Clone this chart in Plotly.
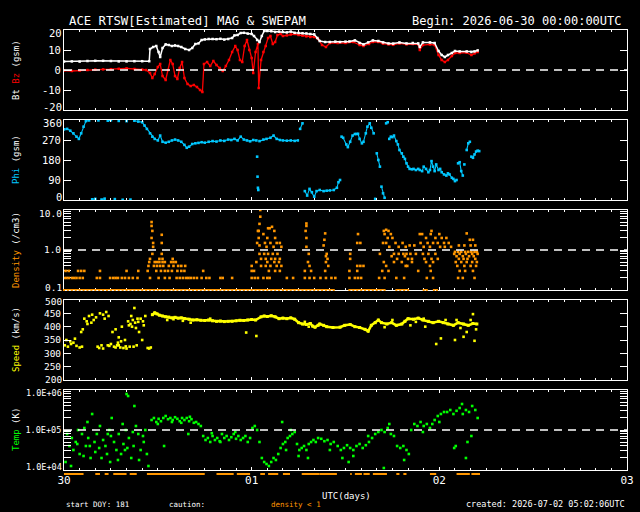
import plotly.graph_objects as go

FONT = "DejaVu Sans Mono"

# ---------------- data: (hours after 2026-06-30 00:00 UTC, value) ----------------
bt_obs = [
    (0, 4.3), (1, 4.3), (2, 4.2), (3, 4.5), (4, 4.6), (5, 4.6), (6, 4.5), (7, 4.3), (8, 4.3), (9, 4.4),
    (10, 4.4), (10.9, 4.4), (11.0, 10.5), (11.4, 11.5), (11.8, 12), (12.1, 9), (12.3, 6.5), (12.6, 11),
    (13.0, 12.8), (13.4, 12.5), (13.8, 12), (14.2, 12.3), (14.6, 12), (15.0, 11.5), (15.5, 10.5), (16.0, 10),
    (16.4, 11), (16.8, 13), (17.2, 13.3), (17.6, 15), (18, 15.3), (18.5, 15.5), (19, 15.5), (19.5, 15.4),
    (20, 15.6), (20.5, 15.2), (21, 15.5), (21.5, 16), (21.8, 17.3), (22.2, 17.5), (22.6, 18.5), (23, 18.6),
    (23.5, 18.2), (24, 18), (24.3, 17), (24.7, 15), (25.0, 14), (25.3, 17), (25.6, 19.5), (26, 19.5),
    (26.5, 19.4), (27, 19), (27.5, 19.2), (28, 19), (28.5, 18.8), (29, 19.2), (29.5, 18.6), (30, 18.5),
    (30.5, 18.4), (31, 18.3), (31.5, 18), (32, 17.8), (32.4, 16), (32.7, 14.5), (33.4, 14), (34.0, 14),
    (34.7, 14.2), (35.3, 14), (36, 14.2), (36.5, 14.3), (37.2, 14.8), (37.8, 13.5), (38.3, 12.8), (38.9, 13.8),
    (39.5, 14.8), (40.2, 14.5), (40.8, 13.8), (41.5, 13.3), (42.1, 13.2), (42.9, 13.8), (43.8, 13.3),
    (44.6, 13.5), (45.3, 13.3), (45.5, 11.5), (45.9, 13.8), (46.8, 13.8), (47.4, 13.5), (47.9, 9.5),
    (48.3, 7.5), (48.7, 6.5), (49.1, 7.5), (49.6, 8.5), (50.0, 9.5), (50.6, 9.3), (51.5, 9.3), (52.1, 9),
    (52.5, 9.3), (52.9, 9.8),
]

bz_obs = [
    (0, -0.3), (1, -0.5), (2, -0.3), (3, 0), (4, 0.2), (5, 0.3), (6, 0.4), (7, 0.6), (8, 0.8), (9, 0.5),
    (10, 0.2), (10.5, 0), (11, -1.5), (11.3, -4), (11.6, -2), (12, 1.5), (12.3, 3), (12.6, -3), (13, -5),
    (13.3, 0), (13.6, 5), (13.9, 3), (14.2, -3), (14.5, -4.5), (14.8, 1), (15.1, 4), (15.4, -4), (15.8, -7),
    (16.2, -8), (16.6, -7.5), (17.0, -8.5), (17.4, -10), (17.7, -11), (17.9, 3), (18.3, 4), (18.7, 2),
    (19.1, 4.5), (19.5, 2.5), (19.9, 1), (20.3, -0.5), (20.7, 2), (21.1, 5), (21.5, 9), (21.9, 12),
    (22.2, 10), (22.5, 5), (22.8, 4), (23.1, 12), (23.4, 15), (23.7, 10), (24.0, 6), (24.2, -1.5),
    (24.5, 9), (24.8, 13), (24.9, -9), (25.2, 5), (25.5, 9), (25.8, 12), (26.1, 16), (26.4, 17),
    (26.7, 13), (27.0, 14), (27.3, 17.5), (27.7, 18), (28.0, 17), (28.5, 17.3), (29, 17.8), (29.5, 18),
    (30, 17.5), (30.5, 17.2), (31, 16.8), (31.5, 16.5), (32, 16.5), (32.5, 15.5), (33, 12.5), (33.5, 11.5),
    (34, 13.5), (35, 13.5), (36, 13.5), (37, 14), (37.8, 12.5), (38.3, 12), (39, 13), (39.5, 14),
    (40.2, 14), (40.8, 13.2), (41.5, 12.8), (42.1, 12.6), (42.9, 13.3), (43.8, 12.8), (44.6, 13),
    (45.3, 12.8), (45.5, 10), (45.9, 12.5), (46.8, 12.8), (47.4, 12.5), (47.9, 7.5), (48.3, 5), (48.7, 4),
    (49.1, 5), (49.6, 7), (50.0, 8.5), (50.6, 8.5), (51.5, 8.7), (52.1, 7.5), (52.5, 8.3), (52.9, 9),
]

phi_obs = [
    (0, 318), (0.4, 320), (0.8, 312), (1.2, 300), (1.6, 285), (1.9, 275), (2.2, 300), (2.5, 330),
    (2.8, 355), (3.2, 358), (3.6, 3), (4.0, 5), (4.4, 358), (4.8, 2), (5.2, 6), (5.6, 357), (6.0, 359),
    (6.5, 4), (7.0, 356), (7.5, 1), (8.0, 355), (8.5, 2), (9.0, 357), (9.5, 353), (10.0, 350), (10.3, 335),
    (10.6, 320), (11.0, 300), (11.3, 285), (11.6, 275), (12.0, 268), (12.3, 290), (12.6, 262), (13.0, 258),
    (13.4, 262), (13.8, 268), (14.2, 272), (14.6, 268), (15.0, 262), (15.4, 248), (15.7, 235), (16.0, 240),
    (16.4, 252), (16.8, 255), (17.2, 257), (17.6, 260), (18.0, 258), (18.5, 262), (19, 265), (19.5, 263),
    (20, 268), (20.5, 266), (21, 272), (21.4, 270), (21.8, 275), (22.2, 268), (22.6, 285), (23, 272),
    (23.4, 268), (23.8, 264), (24.2, 270), (24.6, 268), (24.7, 195), (24.75, 105), (24.8, 55), (24.85, 45),
    (25, 265), (25.5, 272), (25.9, 275), (26.4, 280), (26.8, 290), (27.2, 275), (27.6, 270), (28, 268),
    (28.5, 267), (29, 268), (29.5, 266), (29.9, 268), (30.2, 320), (30.5, 345), (30.8, 40), (31.1, 20),
    (31.4, 50), (31.7, 35), (32.0, 15), (32.3, 40), (32.7, 45), (33.2, 40), (33.6, 42), (34.0, 43),
    (34.5, 45), (34.9, 55), (35.1, 80), (35.3, 90), (35.5, 285), (35.7, 280), (36.1, 250), (36.3, 238),
    (36.6, 262), (36.9, 290), (37.2, 297), (37.4, 297), (37.6, 298), (37.8, 275), (38.1, 255), (38.3, 262),
    (38.6, 300), (38.8, 330), (39.1, 345), (39.3, 325), (39.6, 300), (39.8, 5), (40.0, 210), (40.2, 180),
    (40.4, 150), (40.6, 60), (40.8, 30), (41.0, 10), (41.2, 345), (41.4, 350), (41.6, 275), (41.8, 285),
    (42.0, 283), (42.2, 290), (42.5, 265), (42.7, 250), (42.9, 225), (43.2, 210), (43.4, 195), (43.6, 185),
    (43.8, 165), (44.0, 150), (44.2, 140), (44.5, 138), (44.7, 140), (45.0, 135), (45.3, 140), (45.5, 135),
    (45.8, 130), (46.0, 150), (46.3, 140), (46.6, 125), (46.8, 135), (47.0, 175), (47.2, 150), (47.4, 130),
    (47.6, 160), (47.9, 135), (48.1, 140), (48.3, 125), (48.6, 115), (48.9, 110), (49.1, 120), (49.3, 115),
    (49.6, 100), (49.8, 95), (50.0, 85), (50.2, 90), (50.4, 165), (50.6, 170), (50.8, 130), (51.0, 110),
    (51.2, 160), (51.5, 225), (51.7, 255), (51.9, 262), (52.1, 195), (52.3, 190), (52.5, 205), (52.7, 218),
    (52.9, 222), (53.1, 220),
]

density_obs = [
    (0.0, 0.2), (0.3, 0.2), (0.6, 0.2), (1.0, 0.2), (1.3, 0.2), (1.6, 0.2), (2.0, 0.2), (2.4, 0.2),
    (0.2, 0.3), (0.6, 0.3), (1.8, 0.3), (2.2, 0.3), (2.6, 0.3),
    (4.2, 0.2), (4.6, 0.2), (5.9, 0.2), (6.3, 0.2), (6.6, 0.2), (6.9, 0.2), (7.4, 0.2), (7.8, 0.2),
    (8.3, 0.2), (8.8, 0.2), (9.4, 0.2), (4.6, 0.3), (8.0, 0.3), (9.5, 0.3),
    (11.2, 5.0), (11.2, 4.0), (11.3, 3.0), (11.2, 2.0), (11.4, 1.5), (11.4, 1.2), (11.3, 0.8), (11.0, 0.6),
    (10.9, 0.5), (10.8, 0.4), (10.7, 0.3), (11.0, 0.2),
    (11.6, 0.5), (11.9, 0.5), (12.2, 0.5), (12.6, 0.5), (12.9, 0.5), (11.5, 0.4), (11.9, 0.4), (12.3, 0.4),
    (12.7, 0.4), (12.2, 0.6), (12.6, 0.6), (12.5, 0.8), (12.5, 2.4), (12.5, 1.5), (11.8, 0.3), (12.4, 0.3),
    (12.9, 0.3), (12.1, 0.2), (12.9, 0.2),
    (13.7, 0.5), (14.0, 0.5), (14.3, 0.5), (13.9, 0.6), (13.4, 0.4), (14.0, 0.4), (14.6, 0.4), (15.0, 0.4),
    (15.5, 0.4), (13.3, 0.3), (13.8, 0.3), (14.5, 0.3), (15.0, 0.3), (15.4, 0.3), (13.5, 0.2), (14.4, 0.2),
    (14.8, 0.2), (15.2, 0.2), (15.6, 0.2),
    (15.9, 0.2), (16.2, 0.2), (16.6, 0.2), (17.0, 0.2), (17.6, 0.2), (17.8, 0.3), (18.2, 0.2), (18.6, 0.2),
    (20.0, 0.2), (20.3, 0.2), (21.5, 0.2),
    (24.0, 0.4), (24.0, 0.3), (24.3, 0.3), (24.0, 0.2), (24.4, 0.2), (24.8, 0.2), (24.6, 0.5), (24.7, 1.5),
    (24.8, 3.0), (25.1, 10.0), (25.1, 6.8), (25.0, 4.5), (24.9, 3.0), (24.9, 2.0), (25.0, 1.3), (25.0, 0.8),
    (25.2, 0.6), (25.2, 0.4),
    (25.5, 2.5), (26.1, 3.5), (26.3, 3.5), (26.6, 3.8), (26.9, 3.0), (26.0, 2.0), (27.0, 2.0), (25.7, 1.5),
    (26.4, 1.5), (27.2, 1.5), (27.6, 1.5), (25.9, 1.2), (26.8, 1.2), (27.8, 1.2), (25.6, 0.8), (26.1, 0.8),
    (26.7, 0.8), (27.3, 0.8), (25.8, 0.6), (26.5, 0.6), (27.0, 0.6), (27.6, 0.6), (26.0, 0.5), (26.9, 0.5),
    (27.5, 0.5), (25.8, 0.4), (26.4, 0.4), (27.2, 0.4), (27.8, 0.4), (26.2, 0.3), (27.0, 0.3), (27.6, 0.3),
    (25.5, 0.2), (26.0, 0.2), (26.3, 0.2),
    (28.5, 0.2), (29.3, 0.2),
    (31.0, 4.6), (31.0, 4.0), (30.9, 3.0), (31.0, 2.0), (31.0, 1.2), (31.3, 0.8), (31.2, 0.5), (31.4, 0.4),
    (30.8, 0.3), (31.6, 0.3), (30.8, 0.2), (31.4, 0.2), (32.0, 0.2),
    (33.4, 2.6), (33.3, 1.8), (33.2, 1.3), (33.6, 0.8), (33.5, 0.7), (33.7, 0.6), (33.5, 0.5), (33.8, 0.4),
    (33.4, 0.3), (32.8, 0.2), (33.5, 0.2), (34.2, 0.2), (34.7, 0.2),
    (37.6, 2.5), (37.5, 1.5), (37.9, 1.5), (36.6, 0.8), (36.6, 0.6), (37.5, 0.4), (37.9, 0.4), (38.3, 0.4),
    (36.5, 0.3), (37.5, 0.3), (36.5, 0.2), (37.2, 0.2), (37.6, 0.2), (38.0, 0.2),
    (41.2, 3.2), (40.9, 3.0), (41.5, 3.0), (41.0, 2.5), (41.8, 2.5), (41.4, 2.0), (42.0, 2.0), (40.8, 1.5),
    (41.2, 1.5), (42.4, 1.5), (43.3, 1.5), (41.6, 1.2), (42.8, 1.2), (43.7, 1.2), (40.4, 0.8), (42.2, 0.8),
    (42.8, 0.8), (43.4, 0.8), (41.9, 0.7), (43.6, 0.7), (42.6, 0.6), (40.9, 0.5), (42.2, 0.5), (43.2, 0.5),
    (41.2, 0.4), (43.7, 0.4), (40.7, 0.3), (41.5, 0.3), (40.3, 0.2), (41.0, 0.2), (42.5, 0.2), (43.5, 0.2),
    (45.5, 2.5), (44.2, 1.3), (44.8, 1.3), (43.8, 0.8), (44.3, 0.8), (45.0, 0.8), (44.0, 0.6), (44.5, 0.6),
    (44.5, 0.5), (43.9, 0.4),
    (47.0, 3.0), (45.8, 2.5), (46.9, 2.5), (48.0, 2.5), (46.3, 2.0), (47.5, 2.0), (48.3, 2.0), (48.9, 2.0),
    (45.6, 1.5), (46.5, 1.5), (47.2, 1.5), (47.8, 1.5), (48.6, 1.5), (49.2, 1.5), (46.0, 1.2), (46.8, 1.2),
    (48.1, 1.2), (48.7, 1.2), (49.5, 1.2), (45.9, 0.8), (46.6, 0.8), (47.5, 0.8), (46.1, 0.6), (47.0, 0.6),
    (47.8, 0.6), (46.3, 0.5), (47.2, 0.5), (46.8, 0.4), (45.3, 0.3), (46.9, 0.3), (46.4, 0.2), (47.2, 0.2),
    (51.5, 2.6), (51.9, 1.8), (52.3, 1.8), (50.5, 1.3), (51.2, 1.3), (52.0, 1.3), (52.6, 1.3),
    (50.0, 0.9), (50.4, 0.9), (50.8, 0.9), (51.3, 0.9), (51.7, 0.9), (52.1, 0.9), (52.5, 0.9), (52.8, 0.9),
    (49.9, 0.8), (50.6, 0.8), (51.4, 0.8), (52.2, 0.8), (52.9, 0.8), (50.2, 0.7), (51.0, 0.7), (51.8, 0.7),
    (52.4, 0.7), (50.5, 0.6), (51.1, 0.6), (51.6, 0.6), (52.6, 0.6), (50.1, 0.5), (50.8, 0.5), (51.5, 0.5),
    (52.2, 0.5), (52.8, 0.5), (50.3, 0.4), (51.2, 0.4), (52.0, 0.4), (52.7, 0.4), (50.6, 0.3), (51.3, 0.3),
    (52.3, 0.3), (50.4, 0.2), (51.0, 0.2), (52.5, 0.2),
]

# times where density sat at / below the 0.1 floor of the plot (None = gap)
density_floor_t = [
    0.0, 0.5, 1.0, 1.5, 2.0, 2.5, 3.0, 3.5, 4.0, 4.5, 5.0, 5.5, 6.0, 6.5, 7.0, 7.5, 8.0, 8.5, 9.0, 9.5,
    10.0, 10.5, 11.0, 11.5, 12.0, 12.5, 13.0, 13.5, 14.0, 14.5, 15.0, 15.5, 16.0, 16.5, 17.0, 17.5,
    18.0, 18.5, 19.0, 19.5, 20.0, 20.5, 21.0, 21.5, 22.0, 22.5, 23.0, 23.5, 24.0, 24.5, 25.0, 25.5,
    26.0, 26.5, 27.0, 27.5, 28.0, 28.5, 29.0, 29.5, 30.0, 30.5, 31.0, 31.5, 32.0, 32.5,
    33.0, 33.5, 34.0, 34.5, None, 36.5, 37.0, 37.5, 38.0, 38.5, 39.0, 39.5, 40.0, 40.5, 41.0, None,
    42.5, 43.0, 43.5, 44.0, None, 46.0, 46.4, None, 47.3, 47.7,
]

# solar wind speed: steady band and scattered points
speed_core = [
    (11.3, 445), (11.6, 452), (11.9, 448), (12.2, 443), (12.6, 440), (13.0, 437), (13.4, 436), (13.8, 433),
    (14.2, 435), (14.6, 432), (15.0, 433), (15.4, 430), (16.0, 428), (16.5, 425), (17.0, 426), (17.5, 424),
    (18.0, 423), (18.5, 425), (19.0, 422), (19.5, 420), (20.0, 421), (20.5, 419), (21.0, 420), (21.5, 420),
    (22.0, 422), (22.5, 424), (23.0, 423), (23.5, 425), (24.0, 427), (24.5, 425), (25.2, 437), (25.6, 440),
    (26.0, 438), (26.5, 441), (27.0, 437), (27.5, 430), (28.0, 432), (28.5, 430), (29.0, 433), (29.5, 428),
    (30.0, 415), (30.5, 410), (31.0, 408), (31.5, 412), (31.8, 402), (32.1, 398), (32.5, 405),
    (32.7, 410), (33.2, 405), (33.6, 400), (34.4, 397), (35.3, 398), (35.9, 405), (36.6, 408), (37.2, 400),
    (37.8, 397), (38.5, 390), (38.9, 383), (39.3, 405), (39.8, 415), (40.2, 425), (40.6, 415), (41.3, 410),
    (41.9, 415), (42.5, 405), (43.2, 410), (43.6, 420), (44.0, 430), (44.7, 428), (45.3, 432), (45.9, 425),
    (46.6, 420), (47.2, 415), (47.9, 420), (48.5, 415), (49.1, 410), (49.8, 405), (50.4, 415), (51.1, 410),
    (51.7, 405), (52.3, 412), (52.8, 410),
]
speed_scatter = [
    (0.1, 330), (0.5, 325), (0.9, 335), (1.2, 340), (1.6, 328), (2.0, 322), (2.3, 325), (0.3, 350), (0.8, 345), (1.4, 355),
    (2.2, 380), (2.4, 390), (2.6, 430), (2.9, 420), (3.2, 440), (3.5, 415), (3.8, 425), (4.1, 435), (3.0, 410), (3.6, 445),
    (4.3, 325), (4.5, 320), (4.8, 330), (5.0, 318), (4.6, 450), (5.0, 445), (5.4, 455), (5.7, 440), (5.2, 430),
    (5.6, 330), (6.0, 335), (6.4, 325), (6.8, 330), (7.2, 322), (7.6, 320), (8.0, 318), (6.2, 380), (6.6, 390),
    (7.0, 360), (7.4, 400), (7.8, 350), (6.9, 340), (7.3, 345), (5.8, 328), (6.6, 322), (7.0, 330), (7.9, 326),
    (8.2, 420), (8.5, 410), (8.8, 425), (9.1, 415), (9.4, 430), (8.4, 325), (8.9, 325), (9.3, 330), (9.0, 470),
    (8.6, 440), (9.6, 380), (8.7, 400), (9.2, 395), (8.3, 405), (9.5, 418),
    (9.8, 430), (10.1, 420), (10.4, 440), (10.0, 350), (10.2, 405), (10.7, 320), (10.9, 318), (11.1, 322),
    (13.2, 425), (14.0, 428), (15.2, 422), (23.3, 378), (24.6, 365), (16.2, 415), (18.7, 430),
    (30.8, 418), (31.3, 400), (41.0, 398), (42.0, 425), (44.3, 405), (45.0, 418), (46.2, 400), (47.6, 335),
    (48.2, 356), (50.0, 350), (50.7, 395), (51.1, 362), (51.5, 380), (52.0, 425), (52.3, 447), (52.5, 347),
    (52.7, 390), (46.0, 430), (48.8, 425), (50.2, 425),
]

temp_log10 = [
    (0.2, 4.2), (0.4, 4.9), (0.7, 4.6), (1.0, 4.8), (1.2, 4.5), (1.5, 4.7), (1.8, 5.0), (2.0, 4.4), (2.3, 4.9),
    (2.6, 5.05), (2.8, 4.6), (3.1, 4.8), (3.4, 4.3), (3.6, 5.4), (3.9, 4.7), (4.2, 4.9), (4.5, 4.55), (4.8, 4.3),
    (5.0, 4.75), (5.3, 4.6), (5.6, 4.9), (5.9, 4.2), (6.1, 5.3), (6.4, 4.7), (6.7, 4.5), (7.0, 4.9), (7.3, 4.4),
    (7.6, 4.65), (7.9, 5.0), (8.0, 5.9), (8.3, 4.8), (8.6, 4.3), (8.9, 4.6), (9.2, 5.1), (9.5, 4.9), (9.8, 4.5),
    (10.1, 4.85), (10.4, 5.0), (10.6, 4.4), (10.8, 4.1), (0.9, 4.1), (1.7, 4.65), (2.5, 4.35), (3.0, 5.2),
    (4.0, 4.45), (4.6, 5.1), (5.5, 4.4), (6.0, 4.85), (6.9, 4.25), (7.5, 5.15), (8.1, 4.55), (8.8, 4.95),
    (9.6, 4.25), (10.2, 4.7), (3.3, 4.6), (5.8, 5.0), (7.8, 4.5), (9.0, 5.6), (8.2, 5.85),
    (11.2, 5.25), (11.5, 5.3), (11.8, 5.2), (12.1, 5.28), (12.4, 5.22), (12.7, 5.3), (13.0, 5.35), (13.3, 5.27),
    (13.6, 5.3), (13.9, 5.25), (14.2, 5.32), (14.5, 5.28), (14.8, 5.22), (15.1, 5.3), (15.4, 5.25), (15.7, 5.3),
    (16.0, 5.22), (16.3, 5.27), (16.6, 5.18), (16.9, 5.2), (17.2, 5.15), (17.5, 5.1), (12.0, 5.15), (13.8, 5.2),
    (15.0, 5.18), (16.1, 5.33), (12.8, 4.6), (15.9, 4.9),
    (17.8, 4.85), (18.1, 4.75), (18.4, 4.8), (18.7, 4.7), (19.0, 4.85), (19.3, 4.75), (19.6, 4.8), (19.9, 4.72),
    (20.2, 4.9), (20.5, 4.8), (20.8, 4.85), (21.1, 4.75), (21.4, 4.82), (21.7, 4.9), (22.0, 4.78), (22.3, 4.85),
    (22.6, 4.75), (22.9, 4.8), (23.2, 4.85), (23.5, 4.7), (23.8, 4.8), (18.9, 4.92), (20.0, 4.7), (21.9, 4.95),
    (24.1, 5.05), (24.4, 5.1), (24.7, 5.0), (25.0, 4.7),
    (25.3, 4.3), (25.6, 4.2), (25.9, 4.15), (26.2, 4.1), (26.5, 4.2), (26.8, 4.3), (27.1, 4.25), (27.4, 4.4),
    (27.7, 4.55), (28.0, 4.65), (28.3, 4.7), (28.6, 4.8), (28.9, 4.85), (29.2, 4.9), (29.5, 4.95), (27.9, 5.2),
    (28.4, 4.5), (29.0, 5.0),
    (29.8, 4.65), (30.1, 4.5), (30.4, 4.55), (30.7, 4.6), (31.0, 4.5), (31.3, 4.65), (31.6, 4.7), (31.9, 4.75),
    (32.2, 4.7), (32.5, 4.8), (30.0, 4.35), (31.2, 4.3),
    (32.9, 4.78), (33.3, 4.72), (33.7, 4.75), (34.1, 4.65), (34.5, 4.7), (35.0, 4.6), (35.4, 4.5), (35.8, 4.55),
    (36.2, 4.62), (36.6, 4.55), (37.0, 4.5), (37.4, 4.6), (37.8, 4.65), (38.2, 4.55), (38.6, 4.62), (39.0, 4.7),
    (39.4, 4.8), (39.8, 4.9), (40.2, 4.95), (40.6, 5.0), (41.0, 4.95), (41.4, 5.05), (41.8, 4.9), (42.2, 4.85),
    (42.6, 4.6), (43.0, 4.55), (43.4, 4.6), (43.8, 4.5), (44.1, 4.4), (44.4, 5.0), (44.8, 5.15), (45.2, 5.1),
    (45.6, 5.2), (46.0, 5.1), (46.4, 5.15), (46.8, 5.05), (47.1, 5.15), (47.4, 5.25), (47.8, 5.35), (48.2, 5.4),
    (48.6, 5.45), (49.0, 5.45), (49.4, 5.5), (49.8, 5.4), (50.2, 5.48), (50.6, 5.55), (51.0, 5.4), (51.4, 5.5),
    (51.8, 5.45), (52.2, 5.6), (52.6, 5.5), (52.9, 5.3),
    (49.9, 4.55), (50.1, 4.6), (51.4, 4.3), (52.1, 4.85), (51.6, 4.7), (37.0, 4.35), (40.9, 4.05), (36.4, 4.2),
    (35.6, 4.3), (43.5, 4.25), (34.0, 4.5), (38.9, 4.85), (41.6, 5.15), (45.9, 4.95), (48.0, 5.2), (50.9, 5.65),
]

# density < 1 caution intervals (hours)
caution_start = [0.0, 4.0, 5.2, 6.3, 8.4, 10.6, 19.5, 22.1, 25.1, 26.1, 28.0, 30.4, 32.7, 36.6, 37.2,
                 38.3, 39.5, 42.5, 43.4, 46.8, 50.2, 52.1]
caution_end = [2.5, 4.6, 5.7, 8.0, 9.3, 18.0, 21.7, 23.8, 25.7, 27.4, 28.9, 32.7, 34.9, 36.8, 38.1,
               39.1, 41.3, 42.9, 43.8, 47.6, 51.9, 53.2]

day_ticks = [0, 24, 48, 72]
day_labels = ["30", "01", "02", "03"]

# y tick values per panel (edge labels sit just inside the box, as in IDL plots)
bt_ticks = [-20, -10, 0, 10, 20]
phi_ticks = [0, 90, 180, 270, 360]
speed_ticks = [200, 250, 300, 350, 400, 450, 500]
dens_ticks = [0.1, 0.2, 0.3, 0.4, 0.5, 0.6, 0.7, 0.8, 0.9, 1, 2, 3, 4, 5, 6, 7, 8, 9, 10]
temp_ticks = [1e4, 2e4, 3e4, 4e4, 5e4, 6e4, 7e4, 8e4, 9e4,
              1e5, 2e5, 3e5, 4e5, 5e5, 6e5, 7e5, 8e5, 9e5, 1e6]

# ---------------- colours ----------------
WHITE = "#ffffff"
RED = "#ff0000"
CYAN = "#00c8ff"
ORANGE = "#ff9600"
YELLOW = "#ffff00"
GREEN = "#00ff00"


def unzip(pairs):
    return [p[0] for p in pairs], [p[1] for p in pairs]


def break_jumps(pairs, jump=40):
    xs, ys = [], []
    prev = None
    for t, v in pairs:
        if prev is not None and abs(v - prev) > jump:
            xs.append(None)
            ys.append(None)
        xs.append(t)
        ys.append(v)
        prev = v
    return xs, ys


# ---------------- layout geometry (pixels in 640x512 canvas) ----------------
W, H = 640, 512
X0, X1 = 64, 627
panels = [(30, 110), (120, 200), (210, 290), (300, 380), (390, 470)]
xdom = [X0 / W, X1 / W]


def ydom(top, bot):
    return [1 - bot / H, 1 - top / H]


fig = go.Figure()

# Panel 1: Bt & Bz
t, v = unzip(bz_obs)
fig.add_trace(go.Scatter(x=t, y=v, mode="lines+markers", line=dict(color=RED, width=1.3),
                         marker=dict(color=RED, size=2.5, symbol="square"), xaxis="x", yaxis="y"))
t, v = unzip(bt_obs)
fig.add_trace(go.Scatter(x=t, y=v, mode="lines+markers", line=dict(color=WHITE, width=1.5),
                         marker=dict(color=WHITE, size=2.5, symbol="square"), xaxis="x", yaxis="y"))

# Panel 2: Phi
t, v = break_jumps(phi_obs)
fig.add_trace(go.Scatter(x=t, y=v, mode="lines+markers", line=dict(color=CYAN, width=1.1),
                         marker=dict(color=CYAN, size=2.6, symbol="square"),
                         xaxis="x2", yaxis="y2"))

# Panel 3: Density
t, v = unzip(density_obs)
fig.add_trace(go.Scatter(x=t, y=v, mode="markers", marker=dict(color=ORANGE, size=2.6, symbol="square"),
                         xaxis="x3", yaxis="y3"))
fig.add_trace(go.Scatter(x=density_floor_t, y=[None if a is None else 0.1 for a in density_floor_t],
                         mode="lines+markers", line=dict(color=ORANGE, width=2),
                         marker=dict(color=ORANGE, size=2, symbol="square"), cliponaxis=False,
                         xaxis="x3", yaxis="y3"))

# Panel 4: Speed
t, v = unzip(speed_core)
fig.add_trace(go.Scatter(x=t, y=v, mode="lines+markers", line=dict(color=YELLOW, width=2.5),
                         marker=dict(color=YELLOW, size=3, symbol="square"), xaxis="x4", yaxis="y4"))
t, v = unzip(speed_scatter)
fig.add_trace(go.Scatter(x=t, y=v, mode="markers", marker=dict(color=YELLOW, size=2.6, symbol="square"),
                         xaxis="x4", yaxis="y4"))

# Panel 5: Temperature
t, v = unzip(temp_log10)
fig.add_trace(go.Scatter(x=t, y=[10 ** a for a in v], mode="markers",
                         marker=dict(color=GREEN, size=2.6, symbol="square"), xaxis="x5", yaxis="y5"))

# Caution strip below the temperature panel
cx, cy = [], []
for s, e in zip(caution_start, caution_end):
    cx += [s, e, None]
    cy += [0.5, 0.5, None]
fig.add_trace(go.Scatter(x=cx, y=cy, mode="lines", line=dict(color=ORANGE, width=2),
                         xaxis="x6", yaxis="y6"))

# Dashed reference lines
dash = dict(color=WHITE, width=1.5, dash="8px,6px")
fig.add_trace(go.Scatter(x=[0, 72], y=[0, 0], mode="lines", line=dash, xaxis="x", yaxis="y"))
fig.add_trace(go.Scatter(x=[0, 72], y=[1, 1], mode="lines", line=dash, xaxis="x3", yaxis="y3"))
fig.add_trace(go.Scatter(x=[0, 72], y=[1e5, 1e5], mode="lines", line=dash, xaxis="x5", yaxis="y5"))

# ---------------- axes ----------------
layout = dict(
    template="none",
    width=W, height=H, margin=dict(l=0, r=0, t=0, b=0, pad=0), autosize=False,
    paper_bgcolor="black", plot_bgcolor="black", showlegend=False, hovermode=False,
    font=dict(family=FONT, color=WHITE),
)

minor_ticks = list(range(0, 73, 2))
for i, (top, bot) in enumerate(panels, start=1):
    xa = dict(domain=xdom, range=[0, 72], anchor="y" if i == 1 else f"y{i}", automargin=False,
              showline=True, linecolor=WHITE, linewidth=1, mirror="ticks",
              ticks="inside", ticklen=3, tickcolor=WHITE, tickwidth=1,
              tickmode="array", tickvals=day_ticks, ticktext=day_labels,
              showticklabels=(i == 5), tickfont=dict(family=FONT, size=11, color=WHITE),
              minor=dict(tickmode="array", tickvals=minor_ticks, ticks="inside", ticklen=2,
                         tickcolor=WHITE, tickwidth=1, showgrid=False),
              showgrid=False, zeroline=False, fixedrange=True)
    if i == 3:
        xa["layer"] = "below traces"
    layout["xaxis" if i == 1 else f"xaxis{i}"] = xa

common_y = dict(showline=True, linecolor=WHITE, linewidth=1, mirror="ticks", ticks="inside",
                ticklen=7, tickcolor=WHITE, tickwidth=1, showgrid=False, zeroline=False,
                fixedrange=True, automargin=False, tickmode="array")


def inner_text(vals):
    # interior labels on the axis; first/last drawn as annotations nudged inside
    return [""] + [str(v) for v in vals[1:-1]] + [""]


layout["yaxis"] = dict(common_y, domain=ydom(*panels[0]), anchor="x", range=[-20, 20],
                       tickvals=bt_ticks, ticktext=inner_text(bt_ticks),
                       tickfont=dict(family=FONT, size=10.5, color=WHITE))
layout["yaxis2"] = dict(common_y, domain=ydom(*panels[1]), anchor="x2", range=[0, 360],
                        tickvals=phi_ticks, ticktext=inner_text(phi_ticks),
                        tickfont=dict(family=FONT, size=10.5, color=WHITE))
layout["yaxis3"] = dict(common_y, domain=ydom(*panels[2]), anchor="x3", type="log", range=[-1, 1],
                        tickvals=dens_ticks,
                        ticktext=[("1.0" if v == 1 else "") for v in dens_ticks],
                        layer="below traces",
                        tickfont=dict(family=FONT, size=9.5, color=WHITE))
layout["yaxis4"] = dict(common_y, domain=ydom(*panels[3]), anchor="x4", range=[200, 500],
                        tickvals=speed_ticks, ticktext=inner_text(speed_ticks),
                        tickfont=dict(family=FONT, size=9.5, color=WHITE))
layout["yaxis5"] = dict(common_y, domain=ydom(*panels[4]), anchor="x5", type="log", range=[4, 6],
                        tickvals=temp_ticks,
                        ticktext=[("1.0E+05" if v == 1e5 else "") for v in temp_ticks],
                        tickfont=dict(family=FONT, size=8.5, color=WHITE))
layout["xaxis6"] = dict(domain=xdom, range=[0, 72], anchor="y6", visible=False, fixedrange=True)
layout["yaxis6"] = dict(domain=ydom(471, 477), range=[0, 1], anchor="x6", visible=False, fixedrange=True)


def ann(text, x, y, size, color=WHITE, xanchor="left", angle=0):
    return dict(text=text, x=x / W, y=1 - y / H, xref="paper", yref="paper", showarrow=False,
                xanchor=xanchor, yanchor="middle", textangle=angle,
                font=dict(family=FONT, size=size, color=color))


def edge_label(text, yref, yval, size, top, shift=3):
    return dict(text=text, x=X0 / W, xref="paper", xanchor="right", xshift=-1,
                y=yval, yref=yref, yanchor="middle", yshift=(-shift if top else shift),
                showarrow=False, borderpad=0, font=dict(family=FONT, size=size, color=WHITE))


def ylab(name, color, unit, panel):
    top, bot = panel
    txt = f"<span style='color:{color}'>{name}</span> {unit}"
    return ann(txt, 16, (top + bot) / 2, 9, xanchor="center", angle=-90)


layout["annotations"] = [
    ann("ACE RTSW[Estimated] MAG &amp; SWEPAM", 67, 21, 12.3),
    ann("Begin: 2026-06-30 00:00:00UTC", 624, 21, 12, xanchor="right"),
    ann("Bt <span style='color:#ff0000'>Bz</span> (gsm)", 16, 70, 9, xanchor="center", angle=-90),
    ylab("Phi", CYAN, "(gsm)", panels[1]),
    ylab("Density", ORANGE, "(/cm3)", panels[2]),
    ylab("Speed", YELLOW, "(km/s)", panels[3]),
    ylab("Temp", GREEN, "(K)", panels[4]),
    edge_label(str(bt_ticks[-1]), "y", bt_ticks[-1], 10.5, True),
    edge_label(str(bt_ticks[0]), "y", bt_ticks[0], 10.5, False),
    edge_label(str(phi_ticks[-1]), "y2", phi_ticks[-1], 10.5, True),
    edge_label(str(phi_ticks[0]), "y2", phi_ticks[0], 10.5, False),
    edge_label("10.0", "y3", 1, 9.5, True),
    edge_label("0.1", "y3", -1, 9.5, False),
    edge_label(str(speed_ticks[-1]), "y4", speed_ticks[-1], 9.5, True, shift=1),
    edge_label(str(speed_ticks[0]), "y4", speed_ticks[0], 9.5, False, shift=1),
    edge_label("1.0E+06", "y5", 6, 8.5, True),
    edge_label("1.0E+04", "y5", 4, 8.5, False),
    ann("UTC(days)", 346, 496, 9, xanchor="center"),
    ann("start DOY: 181", 64, 504, 7.5),
    ann("caution:", 167, 504, 7.5),
    ann("density &lt; 1", 269, 504, 7.5, color=ORANGE),
    ann("created: 2026-07-02 05:02:06UTC", 627, 504, 8.5, xanchor="right"),
]

fig.update_layout(layout)
fig.write_html("out.html", config={"displayModeBar": False, "staticPlot": True})
